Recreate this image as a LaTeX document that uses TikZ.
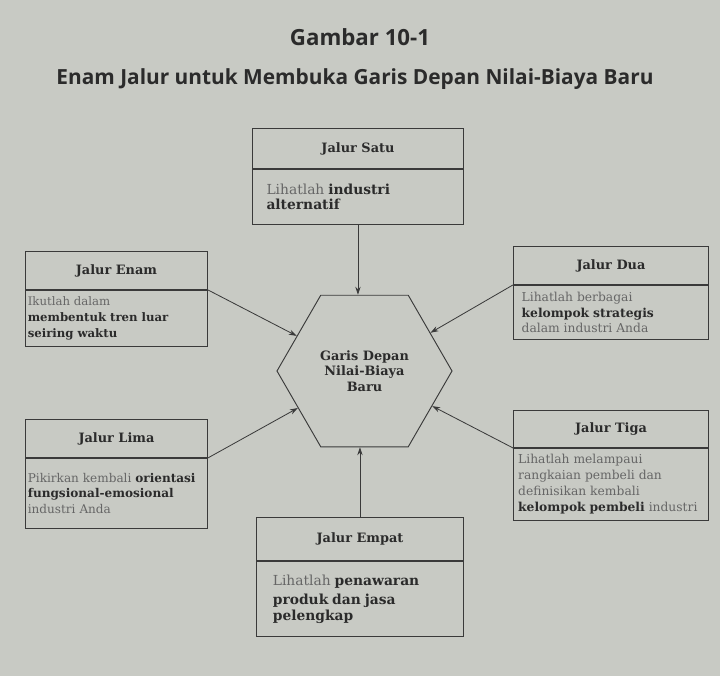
\documentclass[tikz,border=0pt]{standalone}
\usepackage{fontspec}
\setmainfont{DejaVu Serif}
\newfontfamily\titlefont{Open Sans}
\usetikzlibrary{arrows.meta,positioning,shapes.geometric}
\definecolor{paper}{HTML}{C8CAC4}
\definecolor{inkdark}{HTML}{2B2B2B}
\definecolor{inklight}{HTML}{666666}
\definecolor{linedark}{HTML}{3A3A3A}
\tikzset{
  >=Stealth,
  title/.style={font=\titlefont\bfseries\fontsize{19}{22}\selectfont,text=inkdark},
  subtitle/.style={font=\titlefont\bfseries\fontsize{17.8}{20}\selectfont,text=inkdark},
  jalurhead/.style={
    rectangle, draw=linedark, line width=0.8pt, anchor=north west,
    align=center, inner sep=0pt, font=\bfseries\fontsize{11}{13}\selectfont, text=inkdark
  },
  jalurbody/.style={
    rectangle, draw=linedark, line width=0.8pt, align=left,
    font=\fontsize{10}{13.5}\selectfont, text=inklight
  },
  core/.style={
    regular polygon, regular polygon sides=6, draw=linedark, line width=0.8pt,
    minimum size=5.25cm, inner sep=0pt, align=center,
    font=\bfseries\fontsize{11}{13}\selectfont, text=inkdark
  },
  arrow/.style={-{Stealth[length=2.4mm,width=1.6mm]}, line width=0.7pt, draw=linedark}
}
\newcommand{\hl}[1]{\textbf{\textcolor{inkdark}{#1}}}
\newcommand{\bigbody}{\fontsize{11.8}{16.5}\selectfont}
\newcommand{\sidebody}{\fontsize{10.5}{13.6}\selectfont}
% #1 inner xsep, #2 name, #3 north west corner, #4 width, #5 head height, #6 body height, #7 title, #8 text
\newcommand{\jalurbox}[8][5pt]{
  \node[jalurhead, minimum width=#4, minimum height=#5] (#2head) at #3 {#7};
  \node[jalurbody, inner xsep=#1, text width=#4-2*#1, minimum height=#6, below=0pt of #2head] (#2body) {#8};
}

\begin{document}
\begin{tikzpicture}[x=0.03cm,y=-0.03cm]
\fill[paper] (0,0) rectangle (720,676);
\useasboundingbox (0,0) rectangle (720,676);
\node[title] (judul) at (360,37) {Gambar 10-1};
\node[subtitle] (subjudul) at (355,79) {Enam Jalur untuk Membuka Garis Depan Nilai-Biaya Baru};
\node[core] (hex) at (364.5,371) {Garis Depan\\Nilai-Biaya\\Baru};
\jalurbox[12pt]{satu}{(252,128)}{6.33cm}{1.2cm}{1.65cm}{Jalur Satu}%
  {\bigbody Lihatlah \hl{industri}\\\hl{alternatif}}
\jalurbox[2pt]{enam}{(25,251)}{5.46cm}{1.14cm}{1.68cm}{Jalur Enam}%
  {Ikutlah dalam\\\hl{membentuk tren luar}\\\hl{seiring waktu}}
\jalurbox[7pt]{dua}{(513,246)}{5.85cm}{1.14cm}{1.62cm}{Jalur Dua}%
  {\sidebody Lihatlah berbagai\\\hl{kelompok strategis}\\dalam industri Anda}
\jalurbox[2pt]{lima}{(25,419)}{5.46cm}{1.14cm}{2.1cm}{Jalur Lima}%
  {\fontsize{10.3}{13.5}\selectfont Pikirkan kembali \hl{orientasi}\\\hl{fungsional-emosional}\\industri Anda}
\jalurbox[4pt]{tiga}{(513,410)}{5.85cm}{1.11cm}{2.16cm}{Jalur Tiga}%
  {\sidebody Lihatlah melampaui\\rangkaian pembeli dan\\definisikan kembali\\\hl{kelompok pembeli} industri}
\jalurbox[14pt]{empat}{(256,517)}{6.21cm}{1.29cm}{2.25cm}{Jalur Empat}%
  {\bigbody Lihatlah \hl{penawaran}\\\hl{produk dan jasa}\\\hl{pelengkap}}
\draw[arrow] (satubody.south) -- (satubody.south |- hex.north);
\draw[arrow] (empathead.north) -- (empathead.north |- hex.south);
\draw[arrow] (enamhead.south east) -- (hex);
\draw[arrow] (duahead.south west) -- (hex);
\draw[arrow] (limahead.south east) -- (hex);
\draw[arrow] (tigahead.south west) -- (hex);
\end{tikzpicture}
\end{document}
